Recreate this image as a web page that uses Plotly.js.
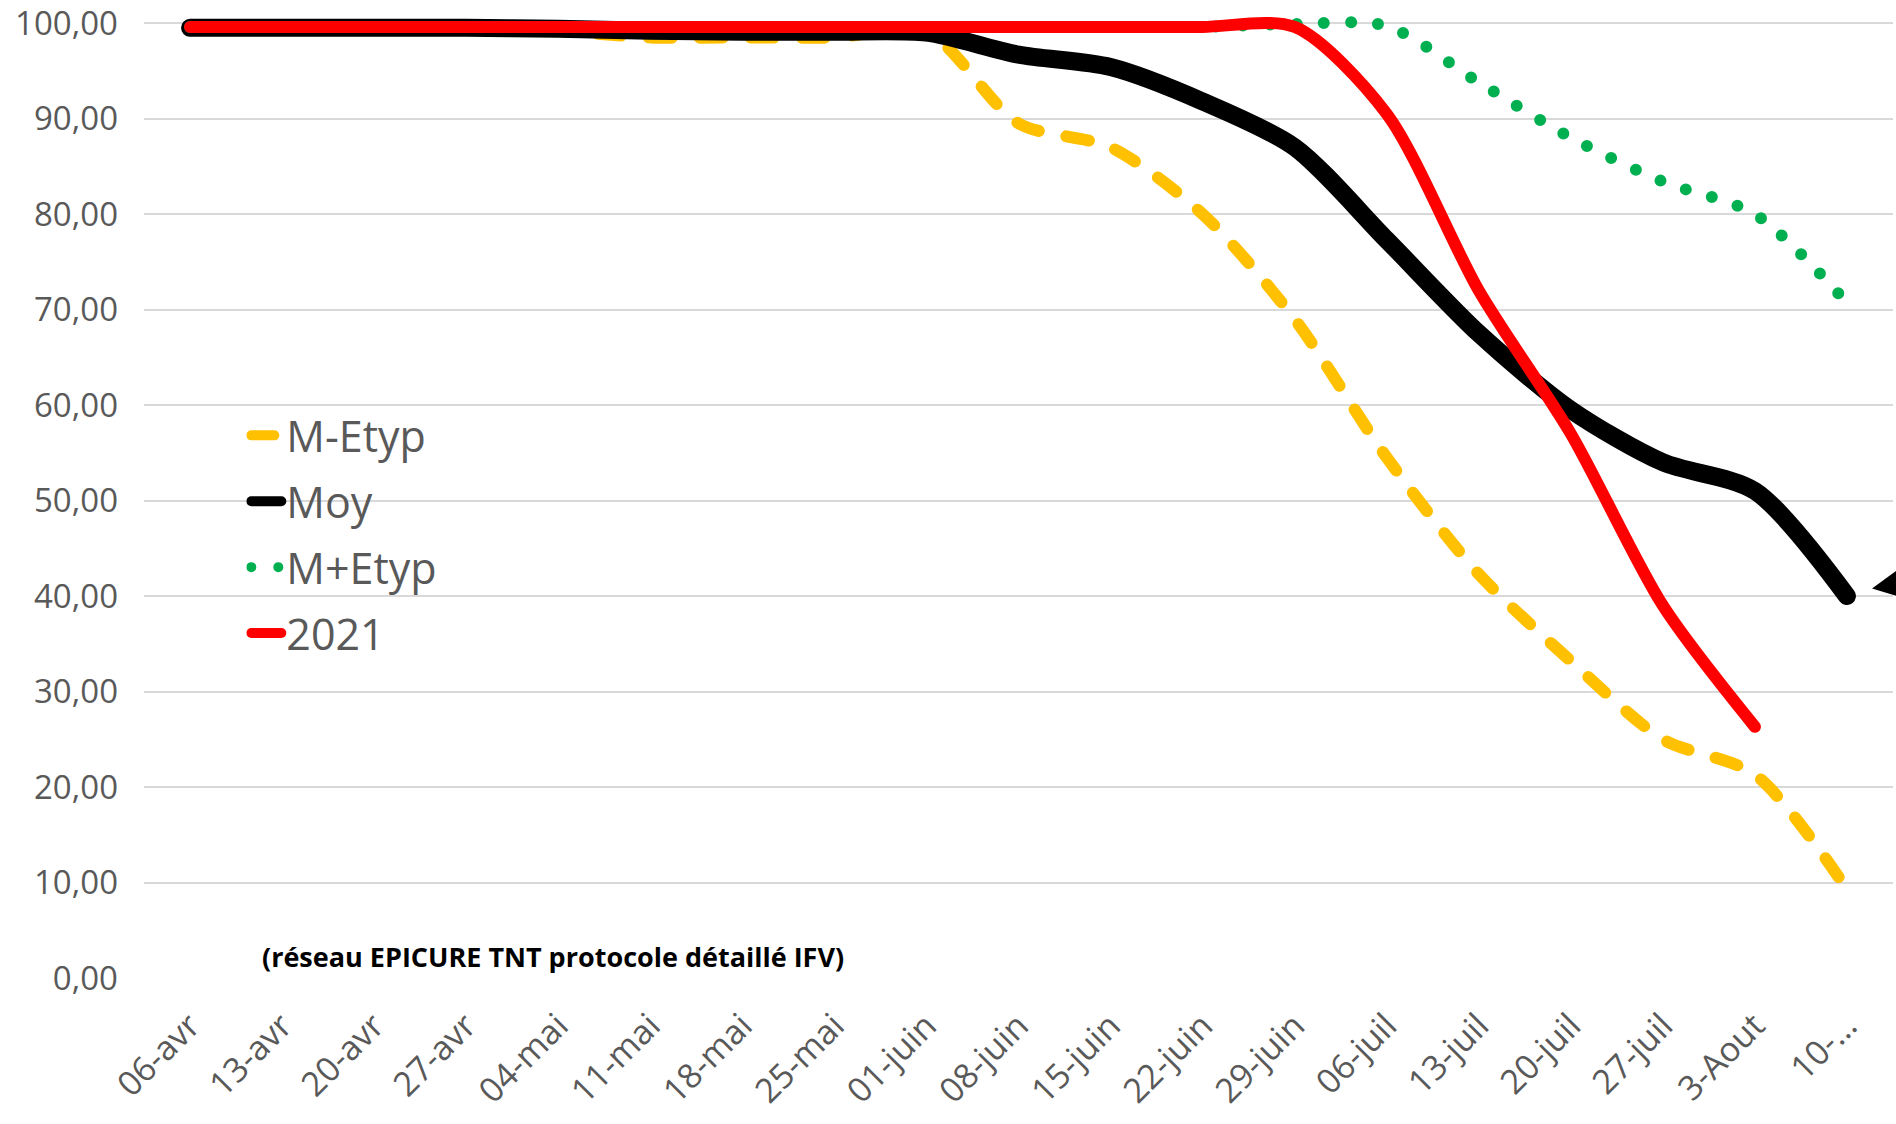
<!DOCTYPE html>
<html>
<head>
<meta charset="utf-8">
<script src="https://cdn.plot.ly/plotly-3.0.1.min.js"></script>
<style>
  html, body { margin: 0; padding: 0; background: #ffffff; }
  #chart { width: 1896px; height: 1124px; }
  .js-line { stroke-linecap: round; stroke-linejoin: round; }
</style>
</head>
<body>
<div id="chart"></div>
<script>
// Categories (weekly dates)
const categories = ["06-avr", "13-avr", "20-avr", "27-avr", "04-mai", "11-mai", "18-mai", "25-mai",
  "01-juin", "08-juin", "15-juin", "22-juin", "29-juin", "06-juil", "13-juil", "20-juil",
  "27-juil", "3-Aout", "10-…"];

// Series values
const mEtyp  = [99.5, 99.5, 99.5, 99.5, 99.2, 98.5, 98.5, 98.5, 99.1, 89.5, 87, 80, 69, 54.5, 42.3, 33.2, 25, 21.3, 9.3];
const moy    = [99.5, 99.5, 99.5, 99.5, 99.4, 99.2, 99.1, 99.1, 99, 96.7, 95.4, 91.8, 87, 77.3, 67.5, 59.5, 54, 51, 40];
const mPlusEtyp = [99.6, 99.6, 99.6, 99.6, 99.6, 99.6, 99.6, 99.6, 99.6, 99.6, 99.6, 99.6, 99.9, 99.7, 93.8, 88, 83.4, 80, 70.7];
const y2021  = [99.6, 99.6, 99.6, 99.6, 99.6, 99.6, 99.6, 99.6, 99.6, 99.6, 99.6, 99.6, 99.6, 90.5, 72, 57, 39, 26.3, null];

const seriesNames = ["M-Etyp", "Moy", "M+Etyp", "2021"];
const yTicks = [0, 10, 20, 30, 40, 50, 60, 70, 80, 90, 100];

const labelColor = "#595959";
const fontFam = "'Open Sans', 'Noto Sans', sans-serif";

const traces = [
  { x: categories, y: mEtyp, name: seriesNames[0], legendgroup: "a",
    line: { color: "#FFC000", width: 12, dash: "23px,28px", shape: "spline", smoothing: 0.8 } },
  { x: categories, y: moy, name: seriesNames[1], legendgroup: "b",
    line: { color: "#000000", width: 18, shape: "spline", smoothing: 0.8 } },
  { x: categories, y: mPlusEtyp, name: seriesNames[2], legendgroup: "c",
    line: { color: "#00B050", width: 12, dash: "0px,27px", shape: "spline", smoothing: 0.8 } },
  { x: categories, y: y2021, name: seriesNames[3], legendgroup: "d",
    line: { color: "#FF0000", width: 12, shape: "spline", smoothing: 0.8 } }
].map(t => Object.assign({ type: "scatter", mode: "lines", hoverinfo: "skip", connectgaps: false }, t));

const layout = {
  width: 1896,
  height: 1124,
  margin: { l: 144, r: 3, t: 4, b: 146 },
  paper_bgcolor: "#ffffff",
  plot_bgcolor: "#ffffff",
  separators: ", ",
  showlegend: true,
  legend: {
    x: 0.0585, y: 0.5925, xanchor: "left", yanchor: "top",
    bgcolor: "rgba(0,0,0,0)",
    font: { family: fontFam, size: 43, color: labelColor },
    tracegroupgap: 7,
    itemsizing: "trace"
  },
  xaxis: {
    type: "category",
    range: [-0.5, 18.5],
    tickangle: -45,
    tickfont: { family: fontFam, size: 34, color: labelColor },
    showgrid: false,
    zeroline: false,
    showline: false,
    ticks: "",
    ticklabelstandoff: 20,
    fixedrange: true
  },
  yaxis: {
    range: [0, 102],
    tickvals: yTicks,
    tickformat: ".2f",
    tickfont: { family: fontFam, size: 33, color: labelColor },
    ticklabeloverflow: "allow",
    showgrid: true,
    gridcolor: "#D9D9D9",
    gridwidth: 2,
    zeroline: false,
    showline: false,
    ticks: "",
    ticklabelstandoff: 25,
    fixedrange: true
  },
  annotations: [
    {
      text: "<b>(réseau EPICURE TNT protocole détaillé IFV)</b>",
      xref: "paper", yref: "y",
      x: 0.234, y: 2.2,
      xanchor: "center", yanchor: "middle",
      showarrow: false,
      font: { family: fontFam, size: 27, color: "#000000" }
    },
    {
      text: "",
      xref: "paper", yref: "y",
      x: 0.988, y: 40.8,
      showarrow: true,
      arrowhead: 2, arrowsize: 2.2, arrowwidth: 3,
      arrowcolor: "#000000",
      ax: 120, ay: -4
    }
  ]
};

Plotly.newPlot("chart", traces, layout, { displayModeBar: false, staticPlot: true });
</script>
</body>
</html>
